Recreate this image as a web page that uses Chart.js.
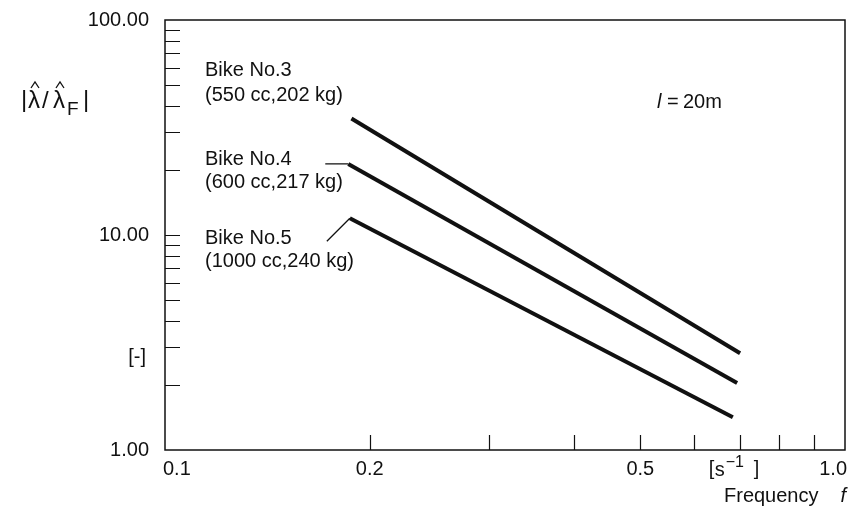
<!DOCTYPE html>
<html>
<head>
<meta charset="utf-8">
<script src="https://cdn.jsdelivr.net/npm/chart.js@4.4.1/dist/chart.umd.min.js"></script>
<style>
  html, body { margin: 0; padding: 0; background: #fff; }
  canvas { display: block; }
</style>
</head>
<body>
<canvas id="chart" width="858" height="510"></canvas>
<script>
// Amplitude ratio vs. frequency, three bikes, l = 20m (log-log)

const bike3Freq = [0.188, 0.701];
const bike3Ratio = [34.8, 2.82];
const bike4Freq = [0.186, 0.694];
const bike4Ratio = [21.4, 2.05];
const bike5Freq = [0.187, 0.684];
const bike5Ratio = [11.97, 1.42];

const xTickValues = [0.2, 0.3, 0.4, 0.5, 0.6, 0.7, 0.8, 0.9];
const xLabelValues = [0.1, 0.2, 0.5, 1.0];
const xLabelTexts = ['0.1', '0.2', '0.5', '1.0'];
const xUnitAt = 0.7;

const yTickValues = [1, 2, 3, 4, 5, 6, 7, 8, 9, 10, 20, 30, 40, 50, 60, 70, 80, 90, 100];
const yLabelValues = [1, 10, 100];

const FONT = '"Liberation Sans", Arial, sans-serif';
const INK = '#111';

function series(xs, ys) {
    return xs.map((x, i) => ({ x: x, y: ys[i] }));
}

function lineSet(xs, ys) {
    return {
        data: series(xs, ys),
        borderColor: INK,
        borderWidth: 4,
        pointRadius: 0,
        fill: false,
        tension: 0
    };
}

// labels, leaders, frame and the inward tick marks
const decor = {
    id: 'decor',
    afterDraw(chart) {
        const ctx = chart.ctx;
        const a = chart.chartArea;
        const xs = chart.scales.x;
        const ys = chart.scales.y;
        ctx.save();
        ctx.strokeStyle = INK;
        ctx.fillStyle = INK;

        // frame
        ctx.lineWidth = 1.5;
        ctx.strokeRect(a.left, a.top, a.right - a.left, a.bottom - a.top);

        // ticks pointing into the plot
        ctx.lineWidth = 1.2;
        ctx.beginPath();
        xTickValues.forEach(v => {
            const px = Math.round(xs.getPixelForValue(v)) + 0.5;
            ctx.moveTo(px, a.bottom);
            ctx.lineTo(px, a.bottom - 15);
        });
        yTickValues.forEach(v => {
            if (v === 1 || v === 100) return;
            const py = Math.round(ys.getPixelForValue(v)) + 0.5;
            ctx.moveTo(a.left, py);
            ctx.lineTo(a.left + 15, py);
        });
        ctx.stroke();

        // x tick labels
        ctx.font = '20px ' + FONT;
        ctx.textBaseline = 'middle';
        const ly = a.bottom + 19;
        xLabelValues.forEach((v, i) => {
            const px = xs.getPixelForValue(v);
            if (i === 0) { ctx.textAlign = 'left'; ctx.fillText(xLabelTexts[i], px - 2, ly); }
            else if (i === xLabelValues.length - 1) { ctx.textAlign = 'right'; ctx.fillText(xLabelTexts[i], px + 2, ly); }
            else { ctx.textAlign = 'center'; ctx.fillText(xLabelTexts[i], px, ly); }
        });

        // unit [s-1] under the 0.7 tick
        const ux = xs.getPixelForValue(xUnitAt);
        ctx.textAlign = 'left';
        ctx.fillText('[', ux - 31, ly);
        ctx.fillText('s', ux - 25, ly + 1);
        ctx.font = '16px ' + FONT;
        ctx.fillText('\u22121', ux - 14, ly - 6);
        ctx.font = '20px ' + FONT;
        ctx.fillText(']', ux + 14, ly);

        // x axis title
        ctx.textAlign = 'left';
        ctx.fillText('Frequency', 724, 496);
        ctx.font = 'italic 20px ' + FONT;
        ctx.textAlign = 'right';
        ctx.fillText('f', 846, 496);

        // y unit
        ctx.font = '20px ' + FONT;
        ctx.textAlign = 'right';
        ctx.fillText('[-]', 146, 357);

        // y axis title |λ̂/λ̂F|
        ctx.textAlign = 'left';
        ctx.textBaseline = 'alphabetic';
        ctx.font = '24px ' + FONT;
        ctx.fillText('|', 21, 107);
        ctx.fillText('\u03bb', 28, 108);
        ctx.fillText('/', 42, 108);
        ctx.fillText('\u03bb', 53, 108);
        ctx.fillText('|', 83, 107);
        ctx.font = '19px ' + FONT;
        ctx.fillText('F', 67, 115);
        ctx.lineWidth = 1.3;
        [35, 60].forEach(cx => {
            ctx.beginPath();
            ctx.moveTo(cx - 4, 88);
            ctx.lineTo(cx, 82);
            ctx.lineTo(cx + 4, 88);
            ctx.stroke();
        });

        // bike labels
        ctx.font = '20px ' + FONT;
        ctx.textBaseline = 'middle';
        ctx.textAlign = 'left';
        ctx.fillText('Bike No.3', 205, 70);
        ctx.fillText('(550 cc,202 kg)', 205, 95);
        ctx.fillText('Bike No.4', 205, 159);
        ctx.fillText('(600 cc,217 kg)', 205, 182);
        ctx.fillText('Bike No.5', 205, 238);
        ctx.fillText('(1000 cc,240 kg)', 205, 261);

        // leaders from the labels to the line starts
        const s4x = xs.getPixelForValue(bike4Freq[0]);
        const s4y = ys.getPixelForValue(bike4Ratio[0]);
        const s5x = xs.getPixelForValue(bike5Freq[0]);
        const s5y = ys.getPixelForValue(bike5Ratio[0]);
        ctx.lineWidth = 1.3;
        ctx.beginPath();
        ctx.moveTo(s4x - 23, s4y);
        ctx.lineTo(s4x, s4y);
        ctx.moveTo(s5x - 23, s5y + 23);
        ctx.lineTo(s5x, s5y);
        ctx.stroke();

        // l = 20m
        ctx.font = 'italic 20px ' + FONT;
        ctx.fillText('l', 657, 102);
        ctx.font = '20px ' + FONT;
        ctx.fillText('=', 667, 102);
        ctx.fillText('20m', 683, 102);

        ctx.restore();
    }
};

const chart = new Chart(document.getElementById('chart'), {
    type: 'line',
    data: {
        datasets: [
            lineSet(bike3Freq, bike3Ratio),
            lineSet(bike4Freq, bike4Ratio),
            lineSet(bike5Freq, bike5Ratio)
        ]
    },
    options: {
        responsive: false,
        devicePixelRatio: 1,
        animation: false,
        layout: { padding: { top: 14, right: 13, left: 0, bottom: 0 } },
        plugins: { legend: { display: false }, tooltip: { enabled: false } },
        scales: {
            x: {
                type: 'logarithmic',
                min: 0.1,
                max: 1.0,
                grid: { display: false },
                border: { display: false },
                ticks: { display: false },
                afterBuildTicks: s => { s.ticks = xTickValues.map(v => ({ value: v })); },
                afterFit: s => { s.height = 60; }
            },
            y: {
                type: 'logarithmic',
                min: 1,
                max: 100,
                grid: { display: false },
                border: { display: false },
                ticks: {
                    autoSkip: false,
                    padding: 8,
                    color: INK,
                    font: { family: FONT, size: 20 },
                    callback: v => yLabelValues.includes(v) ? v.toFixed(2) : ''
                },
                afterBuildTicks: s => { s.ticks = yTickValues.map(v => ({ value: v })); },
                afterFit: s => { s.width = 165; }
            }
        }
    },
    plugins: [decor]
});
</script>
</body>
</html>
